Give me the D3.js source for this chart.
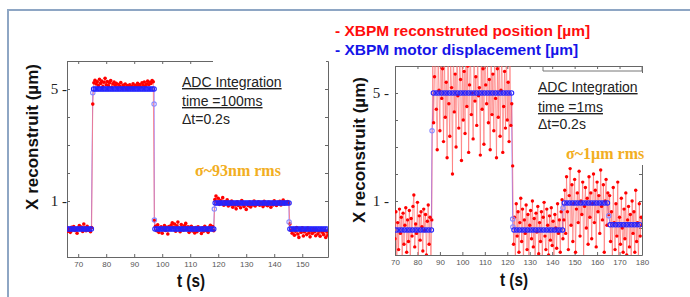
<!DOCTYPE html>
<html>
<head>
<meta charset="utf-8">
<script src="https://cdn.jsdelivr.net/npm/d3@7"></script>
<style>
  html, body { margin: 0; padding: 0; background: #fff; }
  svg { display: block; font-family: "Liberation Sans", Arial, sans-serif; }
</style>
</head>
<body>
<svg id="chart" width="690" height="297"></svg>
<script>
// ---- data ----
// left panel (ADC integration 100 ms), red samples every 0.4 s from t = 66 s
const leftT0 = 66, leftDt = 0.4;
const leftRed = [
  0.05,-0.08,0.02,-0.12,0.06,-0.03,0.09,-0.05,0.01,-0.15,0.04,0.12,-0.02,0.07,-0.09,0.18,0.03,-0.06,0.1,-0.04,0.02,-0.1,0.05,
  4.46,
  5.22,5.31,5.18,5.26,5.12,5.35,5.2,5.28,5.09,5.24,5.38,5.15,5.27,5.11,5.22,5.3,5.06,5.19,5.25,5.13,5.2,5.04,5.16,5.1,5.23,5.02,5.14,
  5.08,5.18,5.0,5.12,5.06,5.15,5.03,5.1,5.19,5.05,5.13,5.08,5.2,5.11,5.16,5.07,5.22,5.14,5.25,5.1,5.18,5.28,5.15,5.24,5.2,5.3,5.26,
  0.3,
  0.1,-0.06,0.15,-0.12,0.04,0.08,-0.15,0.02,0.12,-0.05,0.06,-0.18,0.09,0.0,0.14,0.22,0.05,0.18,-0.08,0.11,0.25,0.03,-0.1,0.16,0.07,-0.04,
  0.12,0.2,-0.02,0.08,-0.12,0.06,0.1,-0.07,0.03,-0.14,0.05,-0.1,0.08,-0.03,0.02,-0.16,0.04,-0.08,0.1,-0.05,0.01,-0.12,0.06,0.13,-0.02,0.09,-0.06,
  1.05,1.18,0.95,1.1,0.88,1.02,0.92,1.12,0.85,0.98,0.9,1.04,0.82,0.95,0.87,1.0,0.78,0.93,0.86,0.72,0.97,0.84,0.9,0.76,1.02,0.88,0.8,0.94,0.7,0.89,
  0.83,0.96,0.79,0.91,0.86,1.0,0.82,0.93,0.88,0.97,0.85,0.91,0.94,0.8,0.99,0.87,0.92,0.83,0.96,0.9,0.78,0.94,0.86,1.01,0.88,0.84,0.95,0.9,0.99,0.86,
  0.92,1.03,0.89,0.95,0.91,0.98,0.93,
  0.18,-0.05,-0.15,0.02,-0.22,-0.08,0.05,-0.18,-0.3,-0.02,-0.12,0.04,-0.25,-0.1,-0.04,-0.2,0.03,-0.14,-0.28,-0.06,-0.16,0.01,-0.1,-0.24,-0.03,
  -0.18,-0.08,-0.26,0.02,-0.12,-0.2,-0.05,-0.3,-0.1,-0.22
];
// motor steps (blue)
const leftStepStart = [66, 75.2, 97.1, 118.6, 145.3];
const leftStepEnd   = [75.2, 97.1, 118.6, 145.3, 159.3];
const leftStepLevel = [0, 5, 0, 0.93, 0];
const leftEdgeT = [75.2, 97.1, 97.2, 118.6, 145.3];
const leftEdgeV = [4.87, 4.46, 0.32, 0.71, 0.25];
const leftXTicks = [70, 80, 90, 100, 110, 120, 130, 140, 150];

// right panel (ADC integration 1 ms), red samples every 0.4 s from t = 70 s
const rightT0 = 70, rightDt = 0.4;
const rightRed = [
  -0.4,0.6,-1.3,0.2,-0.8,0.7,-0.2,0.4,-1.1,0.55,-0.6,0.1,0.75,-0.9,0.3,-0.5,0.65,-1.4,0.35,-0.3,0.8,1.22,-0.7,0.15,-0.2,0.95,-1.2,0.45,
  -0.45,0.6,0.05,-0.85,0.7,-0.1,0.5,-1.0,0.25,0.85,-0.6,0.4,-1.5,0.3,
  6.8,3.9,5.6,7.2,4.4,2.9,6.3,5.1,3.6,7.5,4.8,5.9,3.2,6.6,4.1,5.4,2.6,7.0,4.6,3.4,6.1,5.2,2.0,6.9,4.3,5.7,3.0,7.3,4.9,3.7,
  6.4,5.5,2.5,6.2,4.0,5.8,3.5,7.1,4.5,6.0,2.8,5.3,6.7,4.2,5.0,3.3,7.4,4.7,5.6,3.8,6.5,4.9,5.2,2.7,6.3,4.4,5.9,3.1,7.0,5.3,
  4.6,6.1,3.9,5.5,2.9,6.8,4.2,5.7,3.6,6.4,4.8,2.6,5.9,4.1,7.2,3.4,5.1,6.6,2.8,4.5,5.8,3.7,6.9,4.0,5.4,3.2,6.2,3.8,4.6,
  2.3,-0.6,0.4,-1.2,0.9,-0.3,0.6,-0.9,0.2,1.1,-0.5,0.7,-1.3,0.3,-0.2,0.85,-0.8,0.5,-1.1,0.1,0.65,-0.4,1.0,-0.7,0.35,-1.4,0.55,-0.15,
  0.8,-0.95,0.2,-0.5,0.6,-1.2,0.4,0.95,-0.3,-0.8,0.7,0.1,-1.0,0.45,-0.45,0.75,-0.65,0.25,-1.3,0.5,0.0,-0.75,0.9,-0.2,0.3,-0.9,0.6,1.05,-0.4,
  0.3,1.4,-0.2,1.9,0.6,-0.8,1.2,2.2,0.1,1.6,-0.5,0.9,1.8,-0.9,0.7,1.3,0.2,2.1,-0.3,1.0,0.5,1.7,-1.1,0.8,1.5,0.0,1.1,-0.6,1.9,0.4,
  1.3,-0.4,0.9,2.0,0.2,1.4,-0.7,1.7,0.6,1.2,-0.2,2.15,0.8,0.3,1.6,-0.9,1.0,1.8,0.1,1.3,0.5,
  1.2,-0.5,0.6,-1.1,1.5,0.2,-0.8,0.9,-0.3,1.7,-1.2,0.4,-0.6,1.1,0.0,-0.9,0.7,-0.4,1.3,-1.0,0.3,0.8,-0.7,0.5,-1.3,1.0,-0.2,0.6,
  -0.9,1.4,-0.5,0.2,-1.1,0.9,-0.3,0.4,0.1
];
const rightStepStart = [70, 86.5, 122.4, 144.8, 165.2];
const rightStepEnd   = [86.5, 122.4, 144.8, 165.2, 180];
const rightStepLevel = [-0.07, 5, -0.07, 0.93, 0.12];
const rightEdgeT = [86.5, 122.4, 122.5, 144.8, 165.2];
const rightEdgeV = [3.6, 0.33, 0.04, 0.74, 0.45];
const rightXTicks = [70, 80, 90, 100, 110, 120, 130, 140, 150, 160, 170, 180];

const yLabelTicks = [5, 1];
const yMinorTicks = [-1, 0, 1, 2, 3, 4, 5, 6];

const legendItems = ["XBPM reconstruted position [µm]", "XBPM motor displacement [µm]"];
const legendColors = ["#ff0d0d", "#1515e8"];

const svg = d3.select("#chart");

// outer slide frame
svg.append("path")
  .attr("d", "M8,297 V10 H690")
  .attr("fill", "none")
  .attr("stroke", "#8ea6c4")
  .attr("stroke-width", 2);

function drawPanel(p) {
  const x = d3.scaleLinear().domain(p.xDomain).range([p.left, p.right]);
  const y = d3.scaleLinear().domain([-1, 6]).range([p.bottom, p.top]);

  svg.append("clipPath").attr("id", "clip-" + p.id)
    .append("rect")
    .attr("x", p.left).attr("y", p.top)
    .attr("width", p.right - p.left).attr("height", p.bottom - p.top);

  const axisColor = "#666";
  const g = svg.append("g");

  const bottom = g.append("g")
    .attr("transform", `translate(0,${p.bottom})`)
    .call(d3.axisBottom(x).tickValues(p.xTicks).tickSize(-3).tickSizeOuter(0).tickPadding(4));
  bottom.selectAll("text").attr("font-size", 8).attr("fill", "#555")
    .attr("font-family", "Liberation Sans, Arial, sans-serif");

  g.append("g")
    .attr("transform", `translate(0,${p.top})`)
    .call(d3.axisTop(x).tickValues(p.xTicks).tickSize(-3).tickSizeOuter(0).tickFormat(""));
  g.append("g")
    .attr("transform", `translate(${p.left},0)`)
    .call(d3.axisLeft(y).tickValues(yMinorTicks).tickSize(-3).tickSizeOuter(0).tickFormat(""));
  g.append("g")
    .attr("transform", `translate(${p.right},0)`)
    .call(d3.axisRight(y).tickValues(yMinorTicks).tickSize(-3).tickSizeOuter(0).tickFormat(""));
  g.selectAll(".domain").attr("stroke", axisColor);
  g.selectAll(".tick line").attr("stroke", axisColor);

  // y labels like "5 -"
  g.selectAll(".ylab").data(yLabelTicks).join("text")
    .attr("x", p.left - p.labelGap)
    .attr("y", d => y(d) + 4.5)
    .attr("text-anchor", "end")
    .attr("font-family", "Liberation Serif, Times New Roman, serif")
    .attr("font-size", 15)
    .attr("fill", "#222")
    .text(d => d + " -");

  const plot = svg.append("g").attr("clip-path", `url(#clip-${p.id})`);

  const red = p.red.map((v, i) => ({ t: p.t0 + i * p.dt, v }));

  const blue = [];
  p.stepStart.forEach((s, i) => {
    for (let t = s + p.blueStep / 2; t < p.stepEnd[i]; t += p.blueStep) {
      blue.push({ t, v: p.stepLevel[i] });
    }
  });
  p.edgeT.forEach((t, i) => blue.push({ t, v: p.edgeV[i], edge: true }));
  blue.sort((a, b) => a.t - b.t);

  // blue connecting line under everything
  plot.append("path")
    .datum(blue)
    .attr("fill", "none")
    .attr("stroke", "#8a6cff")
    .attr("stroke-width", 0.9)
    .attr("d", d3.line().x(d => x(d.t)).y(d => y(d.v)));

  // red reconstructed position
  plot.append("path")
    .datum(red)
    .attr("fill", "none")
    .attr("stroke", p.redLine)
    .attr("stroke-width", p.redWidth)
    .attr("d", d3.line().x(d => x(d.t)).y(d => y(d.v)));
  plot.selectAll(".rd").data(red).join("circle")
    .attr("cx", d => x(d.t))
    .attr("cy", d => y(d.v))
    .attr("r", p.redR)
    .attr("fill", "#ff0000");

  // blue motor markers
  plot.selectAll(".bd").data(blue).join("circle")
    .attr("cx", d => x(d.t))
    .attr("cy", d => y(d.v))
    .attr("r", 2.2)
    .attr("fill", "none")
    .attr("stroke", d => d.edge ? "#8a8aff" : "#2424ff")
    .attr("stroke-width", 1.1);

  // axis titles
  svg.append("text")
    .attr("transform", `translate(${p.yTitleX},${p.yTitleY}) rotate(-90)`)
    .attr("text-anchor", "middle")
    .attr("font-weight", "bold")
    .attr("font-size", 17)
    .attr("fill", "#111")
    .text("X reconstruit (µm)");
  svg.append("text")
    .attr("x", p.xTitleX).attr("y", p.xTitleY)
    .attr("text-anchor", "middle")
    .attr("font-weight", "bold")
    .attr("font-size", 19)
    .attr("textLength", 28)
    .attr("lengthAdjust", "spacingAndGlyphs")
    .attr("fill", "#111")
    .text("t (s)");

  return { x, y };
}

drawPanel({
  id: "left", left: 67, right: 328, top: 61, bottom: 257,
  xDomain: [66, 159.2], xTicks: leftXTicks, labelGap: 0,
  red: leftRed, t0: leftT0, dt: leftDt, redLine: "#ff7a7a", redWidth: 0.8, redR: 1.8,
  stepStart: leftStepStart, stepEnd: leftStepEnd, stepLevel: leftStepLevel,
  edgeT: leftEdgeT, edgeV: leftEdgeV, blueStep: 0.6,
  yTitleX: 38, yTitleY: 137, xTitleX: 191, xTitleY: 287
});

drawPanel({
  id: "right", left: 395, right: 642, top: 66, bottom: 255,
  xDomain: [70, 180], xTicks: rightXTicks, labelGap: 6,
  red: rightRed, t0: rightT0, dt: rightDt, redLine: "#ff6464", redWidth: 0.6, redR: 1.7,
  stepStart: rightStepStart, stepEnd: rightStepEnd, stepLevel: rightStepLevel,
  edgeT: rightEdgeT, edgeV: rightEdgeV, blueStep: 1.2,
  yTitleX: 365, yTitleY: 150, xTitleX: 514, xTitleY: 286
});

// text boxes that hide parts of the frames
svg.append("rect").attr("x", 213).attr("y", 58).attr("width", 113).attr("height", 6).attr("fill", "#fff");
svg.append("rect").attr("x", 600).attr("y", 73).attr("width", 50).attr("height", 92).attr("fill", "#fff");
svg.append("path")
  .attr("d", "M543,66 V71 H642 V66")
  .attr("fill", "none")
  .attr("stroke", "#777")
  .attr("stroke-width", 1);

// annotations
function annotate(x0, ys, lines) {
  svg.append("g").selectAll("text").data(lines).join("text")
    .attr("x", x0)
    .attr("y", (d, i) => ys[i])
    .attr("font-size", 14)
    .attr("fill", "#222")
    .style("text-decoration", (d, i) => i < 2 ? "underline" : "none")
    .text(d => d);
}
annotate(182, [87, 106, 124], ["ADC Integration", "time =100ms", "\u0394t=0.2s"]);
annotate(538, [92, 112, 129], ["ADC Integration", "time =1ms", "\u0394t=0.2s"]);

svg.append("text")
  .attr("x", 195).attr("y", 176)
  .attr("font-family", "Liberation Serif, Times New Roman, serif")
  .attr("font-weight", "bold").attr("font-size", 16)
  .attr("fill", "#f2ae22")
  .text("σ~93nm rms");
svg.append("text")
  .attr("x", 566).attr("y", 159)
  .attr("font-family", "Liberation Serif, Times New Roman, serif")
  .attr("font-weight", "bold").attr("font-size", 16)
  .attr("fill", "#f2ae22")
  .text("σ~1µm rms");

// legend
svg.append("g").selectAll("text").data(legendItems).join("text")
  .attr("x", 335)
  .attr("y", (d, i) => 36 + i * 19)
  .attr("font-weight", "bold")
  .attr("font-size", 15.5)
  .attr("fill", (d, i) => legendColors[i])
  .text(d => "- " + d);
</script>
</body>
</html>
